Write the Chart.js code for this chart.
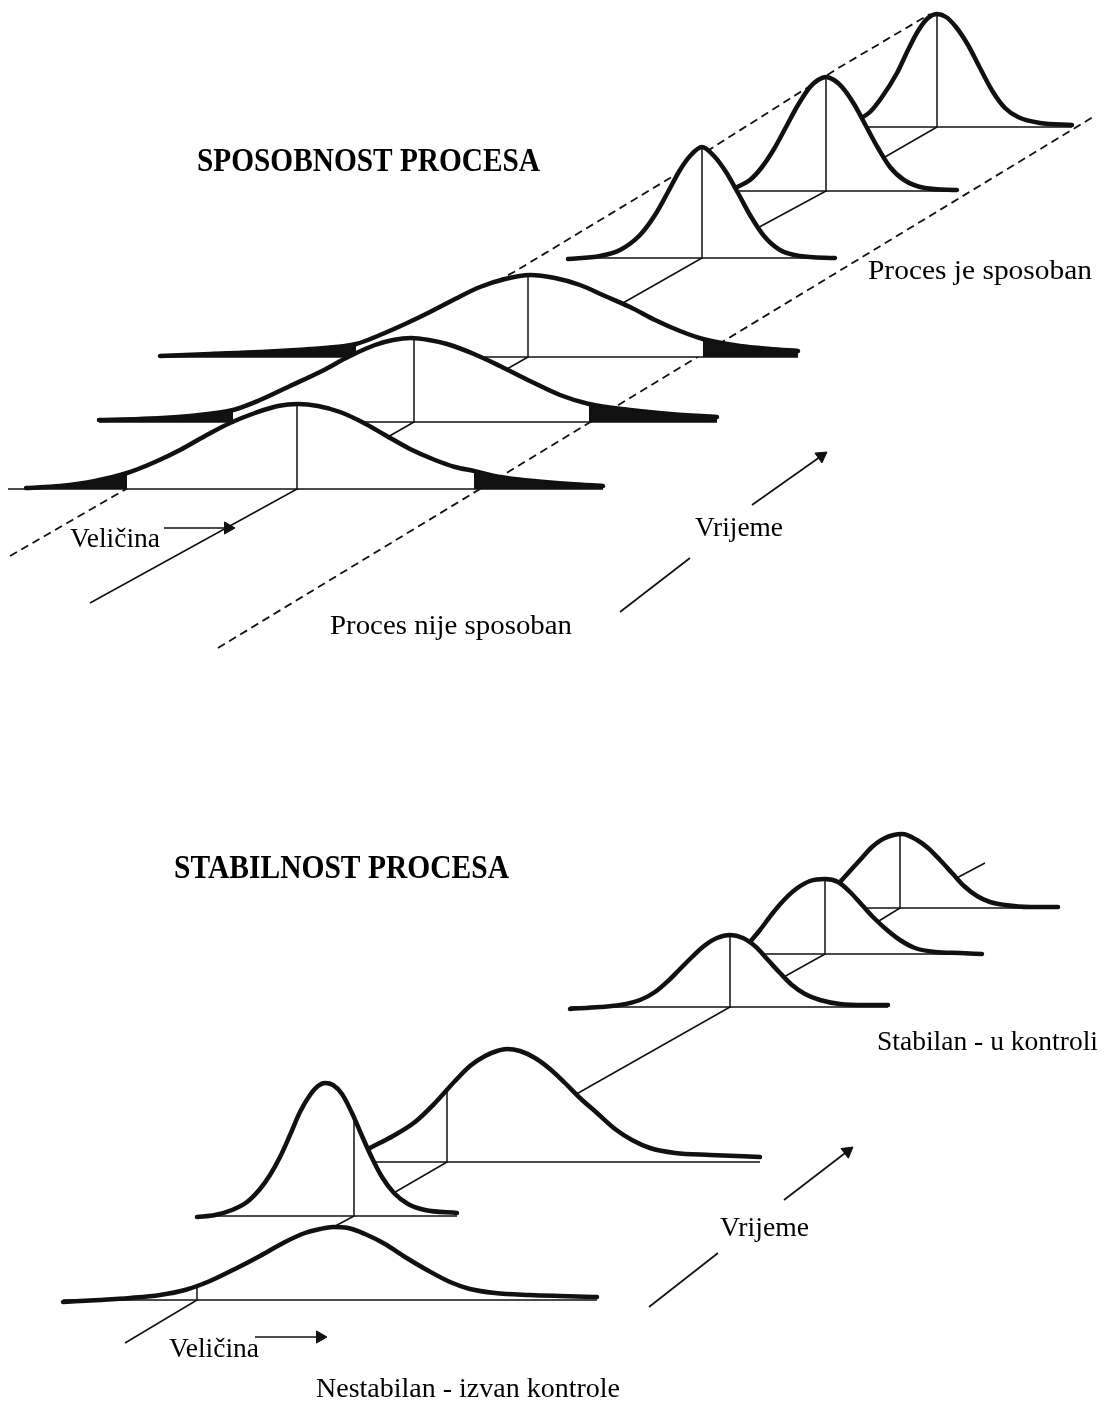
<!DOCTYPE html>
<html>
<head>
<meta charset="utf-8">
<script src="https://cdn.jsdelivr.net/npm/chart.js@4.4.1/dist/chart.umd.min.js"></script>
<style>
html,body{margin:0;padding:0;background:#fff;}
#wrap{width:1105px;height:1405px;position:relative;}
</style>
</head>
<body>
<div id="wrap"><canvas id="c"></canvas></div>
<script>
// ---------- values (x, y in picture units) ----------
// Process capability: capable (narrow) distributions
const curveC1 = [[568,259],[600,256],[620,250],[640,235],[655,215],[668,192],[680,170],[690,156],[702,147],[714,156],[726,172],[738,193],[750,215],[764,236],[780,250],[800,256],[835,258]];
const baseC1 = [568, 835, 258];
const meanC1 = [702, 147];
const curveC2 = [[737,187],[750,180],[762,167],[774,149],[786,127],[798,105],[810,87],[818,80],[826,77],[834,80],[842,87],[854,104],[866,126],[878,148],[890,167],[904,180],[925,188],[957,190]];
const baseC2 = [737, 957, 191];
const meanC2 = [826, 77];
const curveC3 = [[858,120],[870,112],[882,97],[897,73],[908,50],[918,31],[928,18],[937,14],[946,17],[956,27],[968,45],[980,68],[993,92],[1005,108],[1018,117],[1040,123],[1072,125]];
const baseC3 = [858, 1072, 127];
const meanC3 = [937, 14];
// Process capability: not capable (wide) distributions, with tails outside the limits
const curveD1 = [[26,488],[60,486],[95,481],[127,473],[155,462],[180,450],[205,436],[230,423],[255,413],[278,406],[298,404],[318,406],[340,412],[362,422],[385,435],[410,449],[435,460],[455,467],[474,471],[500,477],[534,481],[570,484],[603,486]];
const baseD1 = [8, 603, 489];
const meanD1 = [297, 404];
const cutsD1 = [127, 474];
const curveD2 = [[99,420],[140,419],[190,416],[233,410],[260,400],[290,386],[320,372],[350,356],[375,345],[393,340],[411,338],[429,340],[447,344],[474,354],[500,366],[530,381],[560,395],[589,404],[630,410],[670,414],[717,417]];
const baseD2 = [99, 717, 422];
const meanD2 = [414, 338];
const cutsD2 = [233, 589];
const curveD3 = [[160,356],[210,354],[260,352],[310,349],[356,344],[380,335],[405,324],[430,312],[455,299],[480,287],[505,279],[530,275],[555,278],[580,285],[605,296],[630,307],[655,320],[680,331],[703,339],[740,346],[770,349],[798,351]];
const baseD3 = [160, 798, 357];
const meanD3 = [528, 275];
const cutsD3 = [356, 703];
// Process stability: stable distributions
const curveS1 = [[570,1009],[600,1007],[620,1005],[640,1000],[655,992],[668,981],[680,969],[692,957],[704,946],[717,938],[730,935],[743,938],[756,947],[768,960],[780,973],[792,985],[805,994],[820,1000],[840,1004],[865,1005],[888,1005]];
const baseS1 = [570, 888, 1007];
const meanS1 = [730, 935];
const curveS2 = [[750,942],[760,930],[772,914],[784,900],[796,889],[810,881],[825,879],[838,882],[850,892],[862,905],[874,918],[887,930],[900,940],[915,948],[935,952],[960,953],[982,954]];
const baseS2 = [750, 982, 954];
const meanS2 = [825, 879];
const curveS3 = [[840,882],[850,871],[860,860],[872,847],[885,838],[902,834],[917,840],[928,848],[940,860],[952,873],[964,886],[977,896],[990,902],[1005,905],[1030,907],[1058,907]];
const baseS3 = [840, 1058, 908];
const meanS3 = [900, 834];
// Process stability: unstable distributions
const curveU0 = [[63,1302],[100,1300],[130,1298],[160,1295],[185,1290],[210,1281],[235,1269],[260,1256],[285,1242],[305,1233],[320,1229],[333,1227],[348,1228],[365,1234],[385,1244],[405,1257],[427,1270],[450,1282],[470,1289],[495,1293],[530,1295],[560,1296],[597,1297]];
const baseU0 = [63, 597, 1300];
const meanU0 = [197, 1287];
const curveU1 = [[197,1217],[215,1215],[232,1210],[247,1202],[260,1189],[270,1175],[280,1157],[290,1135],[300,1112],[310,1095],[318,1086],[325,1083],[333,1085],[342,1094],[352,1113],[362,1136],[372,1158],[382,1177],[394,1193],[408,1204],[425,1210],[457,1213]];
const baseU1 = [197, 457, 1216];
const meanU1 = [354, 1117];
const curveU2 = [[370,1148],[393,1136],[415,1122],[435,1103],[455,1081],[470,1066],[485,1056],[497,1051],[507,1049],[520,1051],[535,1058],[550,1069],[565,1083],[580,1098],[597,1113],[615,1129],[632,1140],[650,1148],[675,1153],[710,1155],[760,1157]];
const baseU2 = [370, 760, 1162];
const meanU2 = [447, 1091];
// time axes and specification limits
const timeTop = [[90,603],[297,489],[414,422],[528,357],[702,258],[826,191],[937,127]];
const timeBot = [[125,1343],[197,1300],[354,1216],[447,1162],[580,1092],[730,1007],[825,954],[900,908],[985,863]];
const limitUpper = [[10,556],[128,488],[233,422],[356,355],[514,272],[675,175],[712,148],[840,67],[930,14]];
const limitLower = [[218,648],[1093,117]];
// arrows: [tail, tip]
const arrowSizeTop = [[164,528],[235,528]];
const arrowTimeTopA = [[620,612],[690,558]];
const arrowTimeTopB = [[752,505],[827,452]];
const arrowSizeBot = [[255,1337],[327,1337]];
const arrowTimeBotA = [[649,1307],[718,1253]];
const arrowTimeBotB = [[784,1200],[853,1147]];
// texts
const labelTexts = ["SPOSOBNOST PROCESA","Proces je sposoban","Veličina","Vrijeme","Proces nije sposoban","STABILNOST PROCESA","Stabilan - u kontroli","Vrijeme","Veličina","Nestabilan - izvan kontrole"];

// ---------- layout / style (not data) ----------
const labelLayout = [[197,171,343,1],[868,279,224,0],[70,547,90,0],[695,536,88,0],[330,634,242,0],[174,878,335,1],[877,1050,221,0],[720,1236,89,0],[169,1357,90,0],[316,1397,304,0]];
const INK = '#111';
const HEAD_R = 7;

const P = a => a.map(([x, y]) => ({x, y}));
const sets = [];
function addLine(pts, width, dash) {
  sets.push({data: P(pts), borderColor: INK, borderWidth: width, borderDash: dash || [], tension: 0,
    pointRadius: 0, fill: false, borderCapStyle: 'butt'});
}
function addCurve(pts, baseY) {
  sets.push({data: P(pts), borderColor: INK, borderWidth: 4.5, backgroundColor: '#fff',
    fill: {value: baseY}, cubicInterpolationMode: 'monotone', pointRadius: 0, borderCapStyle: 'round', borderJoinStyle: 'round'});
}
function addWedge(pts, baseY) {
  sets.push({data: P(pts), borderColor: INK, borderWidth: 2, backgroundColor: INK,
    fill: {value: baseY}, cubicInterpolationMode: 'monotone', pointRadius: 0});
}
function addGroup(curve, base, mean, cuts) {
  addCurve(curve, base[2]);
  addLine([[base[0], base[2]], [base[1], base[2]]], 1.7);
  addLine([[mean[0], mean[1]], [mean[0], base[2]]], 1.5);
  if (cuts) {
    addWedge(curve.filter(p => p[0] <= cuts[0]), base[2]);
    addWedge(curve.filter(p => p[0] >= cuts[1]), base[2]);
  }
}
function addArrow(a, withHead) {
  const [t0, t1] = a;
  if (!withHead) { addLine(a, 1.7); return; }
  const dx = t1[0] - t0[0], dy = t1[1] - t0[1], L = Math.hypot(dx, dy);
  const ux = dx / L, uy = dy / L;
  const c = [t1[0] - ux * HEAD_R, t1[1] - uy * HEAD_R];
  addLine([t0, c], 1.7);
  sets.push({data: P([c]), showLine: false, pointStyle: 'triangle', pointRadius: HEAD_R,
    pointRotation: Math.atan2(ux, -uy) * 180 / Math.PI,
    pointBackgroundColor: INK, pointBorderColor: INK, pointBorderWidth: 1});
}

// back to front
addLine(limitUpper, 1.8, [8, 5]);
addLine(limitLower, 1.8, [8, 5]);
addLine(timeTop, 1.5);
addLine(timeBot, 1.5);
addGroup(curveC3, baseC3, meanC3);
addGroup(curveC2, baseC2, meanC2);
addGroup(curveC1, baseC1, meanC1);
addGroup(curveD3, baseD3, meanD3, cutsD3);
addGroup(curveD2, baseD2, meanD2, cutsD2);
addGroup(curveD1, baseD1, meanD1, cutsD1);
addGroup(curveS3, baseS3, meanS3);
addGroup(curveS2, baseS2, meanS2);
addGroup(curveS1, baseS1, meanS1);
addGroup(curveU2, baseU2, meanU2);
addGroup(curveU1, baseU1, meanU1);
addGroup(curveU0, baseU0, meanU0);
addArrow(arrowSizeTop, true);
addArrow(arrowTimeTopA, false);
addArrow(arrowTimeTopB, true);
addArrow(arrowSizeBot, true);
addArrow(arrowTimeBotA, false);
addArrow(arrowTimeBotB, true);
sets.forEach((d, i) => { d.order = sets.length - i; });

const labelPlugin = {
  id: 'labels',
  afterDraw(chart) {
    const {ctx} = chart, xs = chart.scales.x, ys = chart.scales.y;
    labelTexts.forEach((t, i) => {
      const [lx, ly, lw, bold] = labelLayout[i];
      ctx.save();
      ctx.font = (bold ? 'bold 33px' : '27px') + ' "Liberation Serif", "Times New Roman", serif';
      ctx.fillStyle = '#000';
      ctx.textBaseline = 'alphabetic';
      const px = xs.getPixelForValue(lx), py = ys.getPixelForValue(ly);
      const pw = xs.getPixelForValue(lx + lw) - px;
      const m = ctx.measureText(t).width;
      ctx.translate(px, py);
      ctx.scale(pw / m, 1);
      ctx.fillText(t, 0, 0);
      ctx.restore();
    });
  }
};

new Chart(document.getElementById('c'), {
  type: 'line',
  data: {datasets: sets},
  options: {
    responsive: true,
    maintainAspectRatio: false,
    devicePixelRatio: 1,
    animation: false,
    events: [],
    layout: {padding: 0, autoPadding: false},
    plugins: {legend: {display: false}, tooltip: {enabled: false}, title: {display: false}},
    scales: {
      x: {type: 'linear', min: 0, max: 1105, display: false},
      y: {type: 'linear', min: 0, max: 1405, reverse: true, display: false}
    }
  },
  plugins: [labelPlugin]
});
</script>
</body>
</html>
